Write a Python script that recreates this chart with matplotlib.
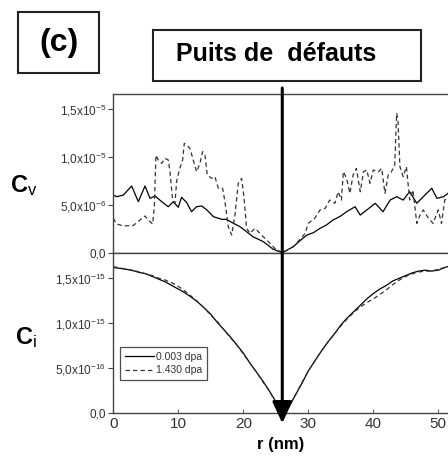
import matplotlib
matplotlib.use("Agg")
import matplotlib.pyplot as plt
from matplotlib.patches import Rectangle

plt.rcParams['font.family'] = ['Liberation Sans', 'DejaVu Sans']
plt.rcParams['mathtext.fontset'] = 'custom'
plt.rcParams['mathtext.rm'] = 'Liberation Sans'
plt.rcParams['mathtext.bf'] = 'Liberation Sans:bold'
plt.rcParams['mathtext.default'] = 'regular'

# ---------------- data ----------------
SINK_R = 26.0
X_MAX = 51.5

# Cv (vacancies), units 1e-6
cv_solid_r = [0, 0.52, 1.54, 2.82, 3.85, 4.88, 5.65, 6.42, 7.45, 8.46, 9.23, 10.0, 10.5,
              11.3, 12.05, 12.8, 13.6, 14.4, 15.4, 16.7, 17.4, 18.5, 19.5, 20.5, 21.5,
              23.1, 24.6, 26.0, 27.7, 28.8, 29.8, 30.8, 31.8, 32.8, 33.8, 34.9, 35.9,
              37.2, 38.0, 39.0, 40.3, 41.5, 42.6, 43.6, 44.6, 45.6, 46.7, 47.7, 49.0,
              49.8, 50.8, 51.5]
cv_solid = [6.03, 5.86, 6.03, 6.98, 5.34, 6.98, 5.69, 5.93, 5.34, 4.81, 5.34, 4.75, 5.80,
            5.23, 4.29, 4.81, 4.89, 4.47, 3.77, 3.49, 3.49, 3.07, 2.72, 2.20, 1.67,
            1.15, 0.36, 0.0, 0.63, 1.30, 1.85, 2.10, 2.55, 2.90, 3.42, 3.80, 4.29,
            4.81, 3.94, 4.47, 5.17, 4.29, 5.51, 5.86, 5.51, 6.38, 5.17, 5.86, 6.74,
            5.69, 5.86, 6.21]

cv_dash_r = [0, 0.51, 1.54, 3.08, 4.10, 4.87, 5.38, 6.05, 6.31, 6.56, 6.92, 7.43, 7.95,
             8.46, 8.72, 9.13, 9.49, 9.74, 10.15, 10.67, 10.92, 11.28, 11.79, 12.3,
             12.82, 13.33, 13.74, 14.1, 14.46, 15.13, 15.64, 16.15, 16.82, 17.18, 17.69,
             18.21, 18.72, 19.23, 19.74, 20.1, 20.51, 21.03, 21.79, 22.56, 23.59, 24.87,
             26.0, 27.7, 29.5, 30.0, 31.0, 31.8, 32.6, 33.3, 34.1, 34.6, 35.1, 35.4,
             35.9, 36.4, 36.9, 37.4, 38.0, 38.5, 39.0, 39.5, 40.0, 40.8, 41.3, 41.8,
             42.3, 42.8, 43.3, 43.6, 43.8, 44.1, 44.6, 45.1, 45.6, 46.1, 46.7, 47.2,
             47.7, 48.5, 49.2, 50.0, 50.5, 51.0, 51.5]
cv_dash = [3.6, 3.0, 2.8, 2.85, 3.42, 3.84, 3.42, 3.0, 4.81, 10.2, 9.7, 9.35, 9.87,
           9.7, 8.47, 5.51, 5.2, 7.43, 8.65, 9.7, 11.44, 11.27, 10.92, 9.7,
           8.47, 9.35, 10.57, 10.2, 8.13, 7.78, 7.95, 6.74, 6.74, 5.34, 2.72,
           1.85, 3.94, 7.26, 7.78, 5.86, 2.55, 2.03, 2.55, 2.03, 1.33, 0.45,
           0.0, 0.63, 2.0, 3.07, 3.60, 4.47, 4.64, 5.51, 5.17, 6.38, 5.51, 8.47,
           7.78, 6.21, 8.13, 8.82, 6.38, 8.47, 8.65, 7.26, 8.65, 8.47, 8.82, 6.21,
           8.13, 8.47, 9.17, 14.58, 13.9, 9.0, 7.95, 9.0, 5.51, 6.56, 3.07, 3.94,
           4.47, 3.6, 3.07, 4.47, 3.07, 5.51, 5.86]

# Ci (interstitials), units 1e-15
ci_r = [0, 1, 2, 3, 4, 5, 6, 7, 8, 9, 10, 11, 12, 13, 14, 15, 16, 17, 18, 19, 20,
        21, 22, 23, 24, 25, 26, 27, 28, 29, 30, 31, 32, 33, 34, 35, 36, 37, 38, 39,
        40, 41, 42, 43, 44, 45, 46, 47, 48, 49, 50, 51, 51.5]
ci_solid = [1.62, 1.61, 1.60, 1.585, 1.565, 1.55, 1.52, 1.49, 1.46, 1.42, 1.38, 1.34,
            1.29, 1.235, 1.17, 1.10, 1.01, 0.93, 0.85, 0.76, 0.67, 0.56, 0.46, 0.36,
            0.25, 0.13, 0.0, 0.07, 0.20, 0.33, 0.47, 0.58, 0.69, 0.79, 0.88, 0.98,
            1.06, 1.13, 1.20, 1.27, 1.33, 1.38, 1.42, 1.47, 1.50, 1.53, 1.56, 1.58,
            1.59, 1.58, 1.59, 1.62, 1.63]
ci_dash = [1.63, 1.615, 1.60, 1.59, 1.57, 1.55, 1.53, 1.50, 1.48, 1.45, 1.41, 1.36,
           1.30, 1.24, 1.17, 1.09, 1.02, 0.93, 0.84, 0.76, 0.66, 0.56, 0.46, 0.35,
           0.25, 0.12, 0.0, 0.07, 0.20, 0.34, 0.47, 0.58, 0.69, 0.79, 0.88, 0.97,
           1.05, 1.12, 1.18, 1.23, 1.27, 1.32, 1.37, 1.43, 1.48, 1.52, 1.55, 1.57,
           1.58, 1.58, 1.60, 1.62, 1.63]

cv_ticks = [0.0, 5e-6, 1e-5, 1.5e-5]
cv_ticklabels = ['0,0', '5,0x10$^{-6}$', '1,0x10$^{-5}$', '1,5x10$^{-5}$']
ci_ticks = [0.0, 5e-16, 1e-15, 1.5e-15]
ci_ticklabels = ['0,0', '5,0x10$^{-16}$', '1,0x10$^{-15}$', '1,5x10$^{-15}$']
x_ticks = [0, 10, 20, 30, 40, 50]
series_labels = ['0.003 dpa', '1.430 dpa']

# ---------------- figure ----------------
W, H = 448, 466
fig = plt.figure(figsize=(W / 100, H / 100), dpi=100)

left = 113.3 / W
ax_top = fig.add_axes([left, 0.4577, 1 - left, 0.7976 - 0.4577])
ax_bot = fig.add_axes([left, 0.1131, 1 - left, 0.4577 - 0.1131])

lw = 0.9
ax_top.plot(cv_solid_r, [v * 1e-6 for v in cv_solid], color='black', lw=lw)
ax_top.plot(cv_dash_r, [v * 1e-6 for v in cv_dash], color='#333333', lw=lw,
            dashes=(3.5, 2.5))
ax_bot.plot(ci_r, [v * 1e-15 for v in ci_solid], color='black', lw=lw,
            label=series_labels[0])
ax_bot.plot(ci_r, [v * 1e-15 for v in ci_dash], color='#333333', lw=lw,
            dashes=(3.5, 2.5), label=series_labels[1])

for ax in (ax_top, ax_bot):
    ax.set_xlim(0, X_MAX)
    ax.spines['right'].set_visible(False)
    for s in ('left', 'top', 'bottom'):
        ax.spines[s].set_color('#444444')
        ax.spines[s].set_linewidth(1.0)
    ax.tick_params(axis='y', direction='out', length=3.5, width=0.8,
                   labelsize=8.5, labelcolor='#333333', pad=1.5, color='#444444')
    ax.tick_params(axis='x', direction='in', length=3, width=0.8,
                   color='#666666')

ax_top.set_ylim(0, 1.657e-5)
ax_top.set_yticks(cv_ticks, cv_ticklabels)
ax_top.set_xticks(x_ticks)
ax_top.tick_params(axis='x', labelbottom=False, length=0)

ax_bot.set_ylim(0, 1.784e-15)
ax_bot.set_yticks(ci_ticks, ci_ticklabels)
ax_bot.set_xticks(x_ticks)
ax_bot.tick_params(axis='x', labelsize=11, labelcolor='#333333', pad=3)
ax_bot.set_xlabel('r (nm)', fontsize=12, fontweight='bold', labelpad=4)

leg = ax_bot.legend(loc='lower left', bbox_to_anchor=(0.02, 0.207),
                    borderaxespad=0, fontsize=7.5, frameon=True, fancybox=False,
                    handlelength=2.8, handletextpad=0.2, borderpad=0.45,
                    labelspacing=0.35)
leg.get_frame().set_edgecolor('#222222')
leg.get_frame().set_linewidth(0.9)
for t in leg.get_texts():
    t.set_color('#333333')

# Sink arrow (from just above the top panel to just below the r axis)
ax_bot.annotate('', xy=(SINK_R, -0.062), xycoords=ax_bot.get_xaxis_transform(),
                xytext=(SINK_R, 1.04), textcoords=ax_top.get_xaxis_transform(),
                arrowprops=dict(arrowstyle='-|>,head_length=1.3,head_width=0.6',
                                lw=2.2, color='black', shrinkA=0, shrinkB=0),
                annotation_clip=False)

# Labels C_v and C_i
fig.text(10 / W, 1 - 186 / H, r'$\mathbf{C}_{\mathrm{v}}$', fontsize=17,
         ha='left', va='center')
fig.text(15 / W, 1 - 338 / H, r'$\mathbf{C}_{\mathrm{i}}$', fontsize=17,
         ha='left', va='center')

# Boxes
fig.add_artist(Rectangle((18 / W, 1 - 73 / H), 81 / W, 61 / H, transform=fig.transFigure,
                         fill=False, lw=1.5, edgecolor='#222222'))
fig.text(58.5 / W, 1 - 43 / H, '(c)', fontsize=23, fontweight='bold',
         ha='center', va='center')
fig.add_artist(Rectangle((153 / W, 1 - 81 / H), 268 / W, 51 / H, transform=fig.transFigure,
                         fill=False, lw=1.5, edgecolor='#222222'))
fig.text(276.5 / W, 1 - 54 / H, 'Puits de  défauts', fontsize=18, fontweight='bold',
         ha='center', va='center')

fig.savefig('out.png', dpi=100)
